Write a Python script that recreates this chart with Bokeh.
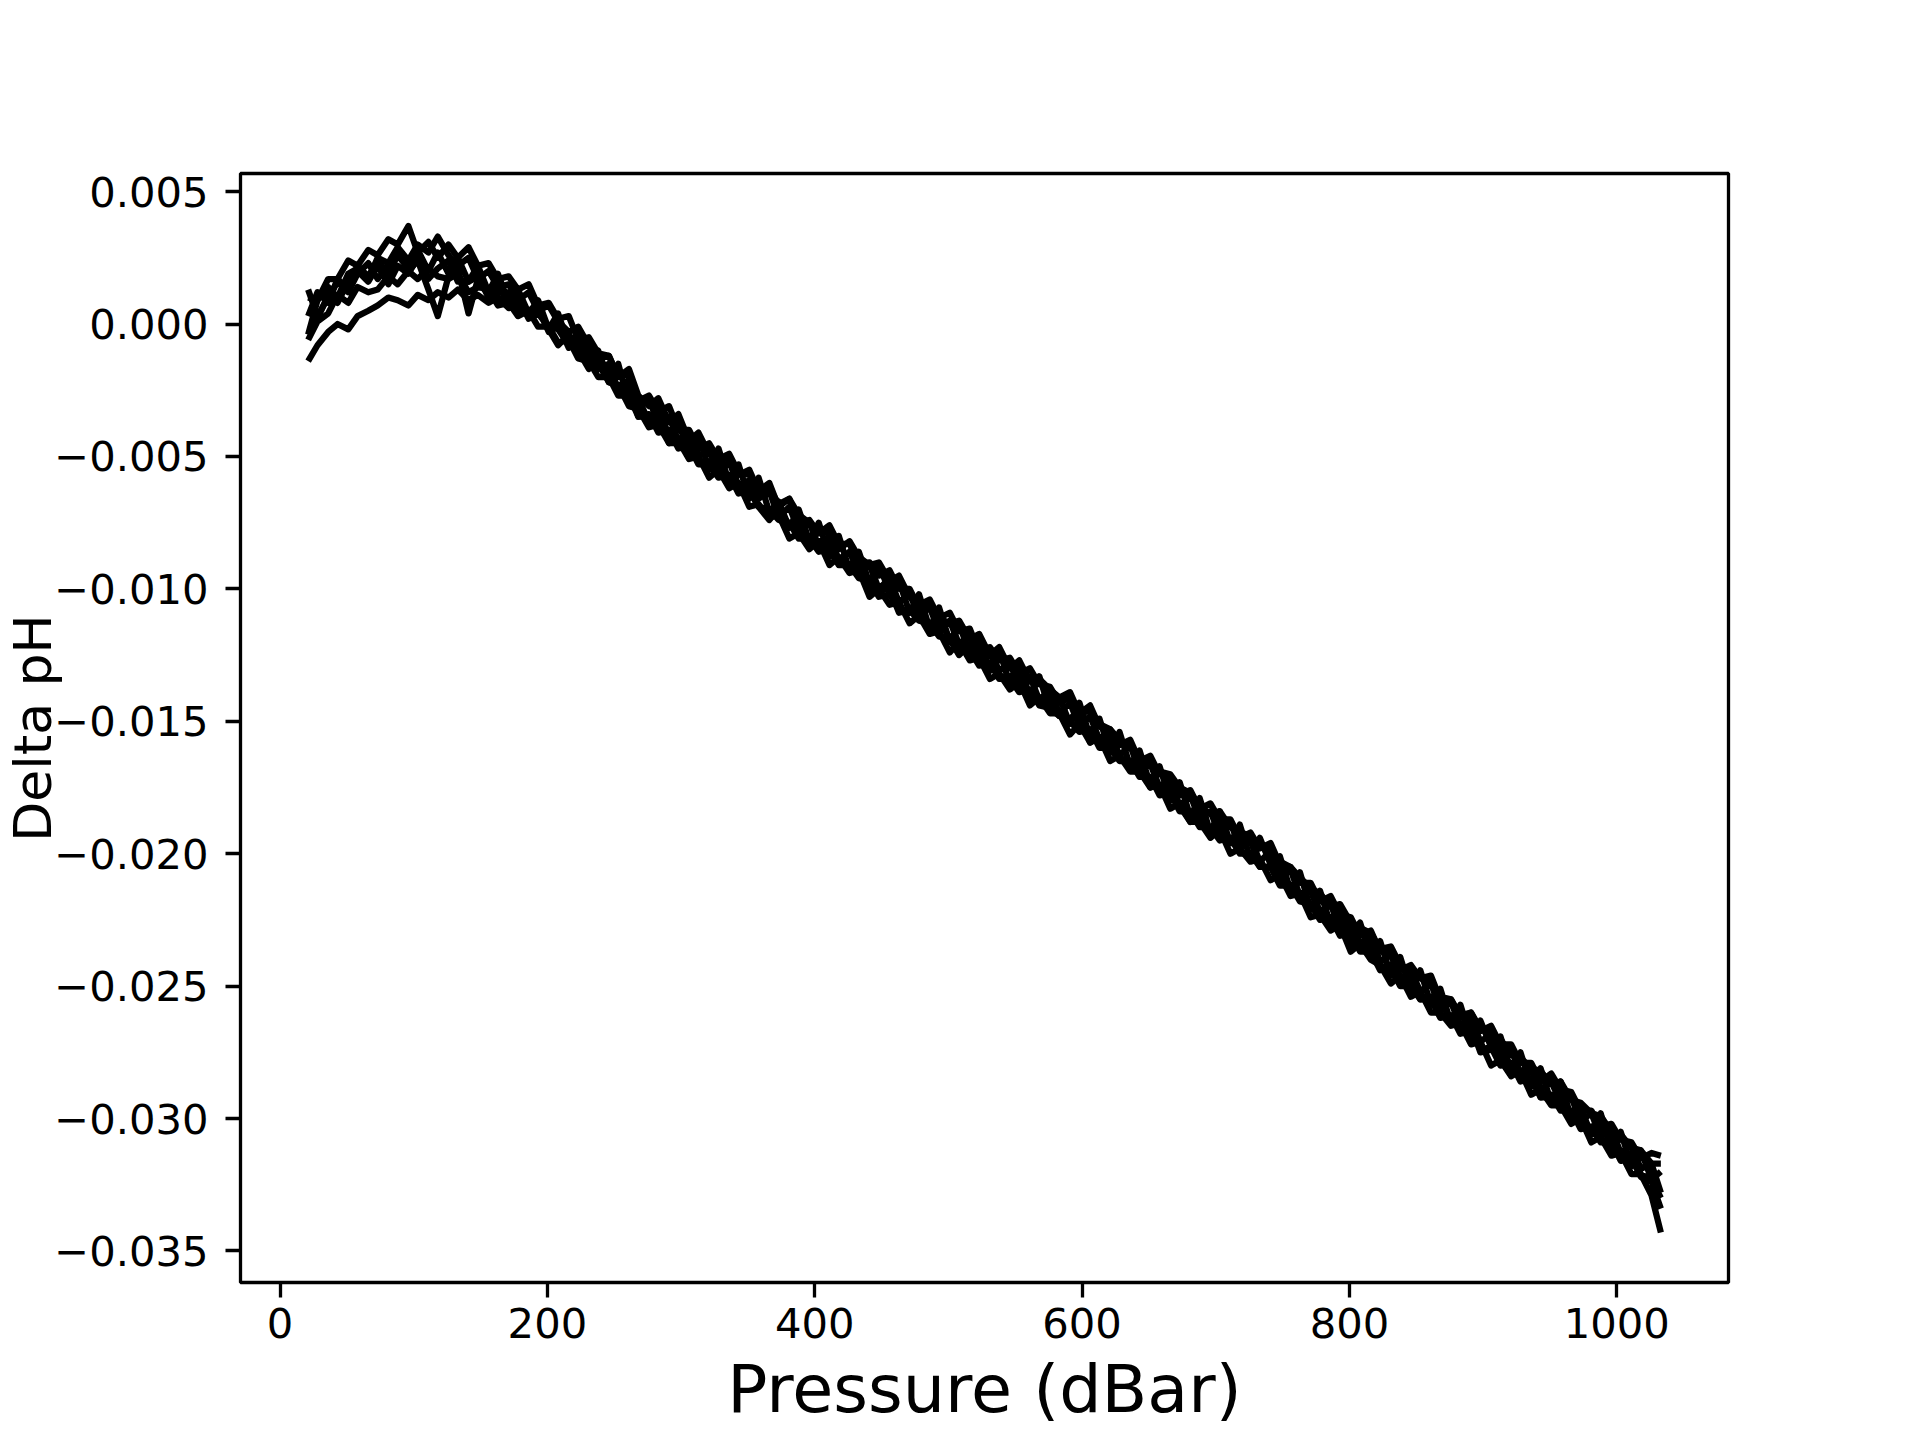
from bokeh.plotting import figure
from bokeh.models import Range1d, FixedTicker, CustomJSTickFormatter
from bokeh.embed import file_html
from bokeh.resources import INLINE

# ---------------- data ----------------
# pressure in dBar
pressure = [21, 28, 36, 43, 51, 58, 66, 73, 81, 88,
            96, 103, 111, 118, 126, 133, 141, 148, 156, 163,
            171, 178, 186, 193, 201, 208, 216, 223, 231, 238,
            246, 253, 261, 268, 276, 283, 291, 298, 306, 313,
            321, 328, 336, 343, 351, 358, 366, 373, 381, 388,
            396, 403, 411, 418, 426, 433, 441, 448, 456, 463,
            471, 478, 486, 493, 501, 508, 516, 523, 531, 538,
            546, 553, 561, 568, 576, 583, 591, 598, 606, 613,
            621, 628, 636, 643, 651, 658, 666, 673, 681, 688,
            696, 703, 711, 718, 726, 733, 741, 748, 756, 763,
            771, 778, 786, 793, 801, 808, 816, 823, 831, 838,
            846, 853, 861, 868, 876, 883, 891, 898, 906, 913,
            921, 928, 936, 943, 951, 958, 966, 973, 981, 988,
            996, 1003, 1011, 1018, 1026, 1033]

# delta pH of each profile, in units of 0.0001 pH
delta_ph_1 = [10, 9, 17, 17, 24, 22, 28, 26, 32, 30,
              37, 27, 31, 25, 30, 25, 29, 22, 23, 17,
              18, 13, 15, 7, 8, 2, 3, -6, -5, -11,
              -12, -20, -19, -29, -27, -33, -31, -40, -40, -47,
              -45, -51, -49, -56, -57, -65, -62, -68, -66, -75,
              -74, -79, -76, -83, -83, -91, -90, -95, -93, -100,
              -100, -107, -106, -111, -109, -116, -115, -124, -122, -127,
              -126, -132, -130, -136, -137, -143, -141, -147, -144, -152,
              -153, -159, -157, -165, -163, -170, -171, -178, -176, -183,
              -181, -187, -187, -194, -192, -198, -196, -204, -205, -211,
              -211, -218, -216, -223, -224, -231, -229, -237, -237, -244,
              -242, -247, -246, -255, -255, -262, -260, -267, -265, -272,
              -272, -279, -279, -286, -283, -289, -290, -297, -297, -303,
              -302, -308, -309, -315, -313, -314]

delta_ph_2 = [-14, -8, -3, 0, -2, 3, 5, 7, 10, 9,
              7, 11, 9, 12, 10, 13, 9, 11, 8, 10,
              6, 7, 3, 4, -1, -2, -8, -7, -14, -15,
              -22, -23, -31, -32, -39, -38, -45, -44, -51, -50,
              -58, -55, -62, -60, -69, -68, -73, -72, -81, -79,
              -85, -82, -91, -88, -94, -93, -103, -100, -106, -105,
              -113, -110, -117, -116, -124, -120, -127, -126, -134, -132,
              -138, -135, -144, -141, -147, -147, -155, -151, -158, -156,
              -165, -163, -169, -169, -175, -174, -183, -181, -188, -188,
              -194, -191, -200, -198, -203, -202, -210, -208, -216, -215,
              -224, -223, -229, -227, -237, -234, -240, -242, -249, -246,
              -254, -252, -260, -260, -265, -264, -272, -271, -280, -278,
              -284, -282, -291, -289, -295, -295, -302, -300, -309, -307,
              -314, -313, -321, -321, -329, -343]

delta_ph_3 = [3, 12, 8, 17, 13, 22, 18, 24, 19, 26,
              21, 28, 20, 27, 19, 25, 16, 22, 12, 19,
              8, 13, 4, 9, -2, 4, -8, -3, -15, -10,
              -21, -15, -30, -28, -37, -30, -43, -37, -49, -42,
              -55, -47, -60, -53, -66, -58, -71, -67, -77, -70,
              -82, -75, -88, -80, -93, -86, -98, -91, -101, -97,
              -109, -102, -115, -107, -120, -113, -125, -118, -131, -123,
              -136, -128, -141, -133, -146, -141, -151, -143, -156, -149,
              -162, -154, -167, -161, -174, -167, -180, -173, -186, -179,
              -192, -184, -196, -189, -202, -194, -204, -201, -214, -207,
              -221, -214, -227, -220, -230, -226, -239, -233, -246, -239,
              -252, -244, -257, -251, -264, -257, -270, -263, -273, -269,
              -282, -275, -288, -281, -294, -286, -300, -296, -306, -298,
              -312, -305, -318, -312, -323, -330]

delta_ph_4 = [5, 2, 11, 8, 16, 20, 16, 22, 15, 22,
              19, 25, 17, 21, 24, 16, 16, 18, 10, 12,
              12, 4, 5, 7, -2, -8, -4, -10, -17, -12,
              -22, -23, -23, -35, -35, -34, -45, -45, -44, -52,
              -52, -50, -61, -61, -61, -69, -74, -70, -76, -74,
              -84, -82, -82, -90, -91, -89, -100, -100, -100, -109,
              -108, -107, -115, -111, -119, -125, -121, -126, -124, -133,
              -133, -132, -142, -142, -141, -148, -149, -146, -158, -156,
              -156, -164, -165, -164, -175, -174, -174, -182, -188, -185,
              -191, -188, -196, -196, -195, -205, -205, -206, -214, -215,
              -214, -223, -224, -224, -234, -234, -234, -243, -242, -248,
              -246, -255, -254, -254, -264, -265, -265, -275, -274, -273,
              -282, -282, -281, -292, -292, -291, -299, -297, -306, -305,
              -306, -314, -313, -321, -323, -320]

delta_ph_5 = [-4, 9, 14, 10, 19, 21, 17, 25, 23, 29,
              24, 30, 27, 33, 26, 22, 25, 17, 20, 14,
              15, 9, 12, 5, 7, 1, -3, -1, -8, -13,
              -12, -20, -17, -27, -31, -28, -37, -34, -44, -41,
              -49, -52, -50, -57, -55, -63, -60, -69, -66, -72,
              -75, -79, -78, -85, -82, -88, -91, -90, -97, -95,
              -103, -106, -104, -111, -113, -112, -119, -117, -125, -122,
              -130, -127, -135, -134, -138, -141, -139, -147, -146, -151,
              -153, -157, -160, -163, -166, -169, -170, -175, -177, -182,
              -185, -184, -190, -192, -193, -197, -199, -203, -205, -209,
              -213, -215, -220, -219, -226, -228, -230, -236, -235, -242,
              -244, -247, -249, -254, -255, -261, -260, -266, -268, -270,
              -276, -277, -281, -282, -287, -286, -293, -294, -298, -299,
              -305, -306, -311, -312, -317, -317]

delta_ph_6 = [-6, 1, 4, 11, 8, 14, 12, 13, 18, 15,
              20, 17, 21, 18, 17, 19, 12, 14, 13, 7,
              8, 3, 5, -1, -1, -7, -6, -13, -14, -20,
              -20, -27, -27, -35, -34, -41, -40, -47, -46, -53,
              -53, -58, -57, -64, -63, -69, -70, -74, -75, -81,
              -81, -86, -85, -91, -91, -96, -97, -103, -102, -108,
              -108, -112, -113, -118, -118, -124, -123, -129, -128, -134,
              -134, -139, -138, -144, -145, -148, -150, -154, -153, -160,
              -160, -165, -165, -171, -171, -178, -177, -184, -184, -190,
              -190, -195, -194, -200, -200, -205, -205, -212, -212, -218,
              -219, -225, -224, -231, -230, -237, -237, -244, -243, -250,
              -250, -255, -255, -262, -261, -268, -267, -274, -273, -280,
              -279, -286, -285, -292, -291, -297, -297, -304, -303, -309,
              -309, -316, -315, -322, -324, -334]

delta_ph_7 = [13, 3, 10, 16, 12, 19, 23, 17, 22, 28,
              20, 24, 13, 3, 18, 21, 4, 17, 11, 15,
              7, 10, 2, 6, -3, 0, -9, -4, -11, -17,
              -15, -25, -21, -32, -28, -38, -35, -44, -41, -50,
              -47, -56, -52, -61, -59, -66, -63, -73, -69, -78,
              -75, -84, -80, -89, -86, -94, -91, -100, -96, -105,
              -102, -110, -107, -116, -112, -121, -117, -127, -123, -131,
              -128, -137, -133, -142, -138, -147, -143, -152, -148, -157,
              -154, -163, -159, -169, -166, -175, -172, -182, -178, -187,
              -184, -193, -188, -198, -194, -203, -199, -209, -206, -216,
              -213, -222, -219, -229, -225, -234, -231, -241, -238, -248,
              -244, -252, -249, -259, -256, -265, -262, -271, -268, -278,
              -274, -283, -280, -289, -286, -294, -292, -301, -298, -307,
              -304, -313, -310, -319, -317, -328]

profiles = [delta_ph_1, delta_ph_2, delta_ph_3, delta_ph_4,
            delta_ph_5, delta_ph_6, delta_ph_7]
PH_UNIT = 1e-4

x_ticks = [0, 200, 400, 600, 800, 1000]
y_ticks = [0.005, 0.0, -0.005, -0.010, -0.015, -0.020, -0.025, -0.030, -0.035]
y_tick_labels = ["0.005", "0.000", "\u22120.005", "\u22120.010", "\u22120.015",
                 "\u22120.020", "\u22120.025", "\u22120.030", "\u22120.035"]
x_title = "Pressure (dBar)"
y_title = "Delta pH"

# ---------------- figure ----------------
FONT = "DejaVu Sans"
W, H = 1920, 1440
p = figure(width=W, height=H, output_backend="svg", toolbar_location=None,
           x_range=Range1d(-29.6, 1083.6), y_range=Range1d(-0.03619, 0.005684),
           min_border_left=240, min_border_right=192, min_border_top=173, min_border_bottom=158)
p.title.visible = False
p.background_fill_color = "white"
p.border_fill_color = "white"
p.outline_line_color = "black"
p.outline_line_width = 3.3
p.grid.visible = False

for ax in (p.xaxis[0], p.yaxis[0]):
    ax.axis_line_color = None
    ax.major_tick_line_color = "black"
    ax.major_tick_line_width = 3.3
    ax.major_tick_out = 15
    ax.major_tick_in = 0
    ax.minor_tick_line_color = None
    ax.major_label_text_font = FONT
    ax.major_label_text_font_size = "41.7px"
    ax.major_label_text_color = "black"
    ax.axis_label_text_font = FONT
    ax.axis_label_text_font_style = "normal"
    ax.axis_label_text_color = "black"

xa, ya = p.xaxis[0], p.yaxis[0]
xa.ticker = FixedTicker(ticks=x_ticks)
xa.major_label_standoff = 10
xa.axis_label = x_title
xa.axis_label_text_font_size = "66.7px"
xa.axis_label_standoff = 9

ya.ticker = FixedTicker(ticks=y_ticks)
ya.major_label_standoff = 17
ya.axis_label = y_title
ya.axis_label_text_font_size = "52px"
ya.axis_label_standoff = -12
ya.formatter = CustomJSTickFormatter(
    args=dict(tick_vals=y_ticks, tick_texts=y_tick_labels),
    code="""
        let b = 0;
        for (let i = 0; i < tick_vals.length; i++) {
            if (Math.abs(tick_vals[i] - tick) < Math.abs(tick_vals[b] - tick)) { b = i; }
        }
        return tick_texts[b];
    """)

for prof in profiles:
    n = min(len(pressure), len(prof))
    p.line(pressure[:n], [v * PH_UNIT for v in prof[:n]],
           line_color="black", line_width=6.25, line_join="round")

open("out.html", "w").write(file_html(p, INLINE))
